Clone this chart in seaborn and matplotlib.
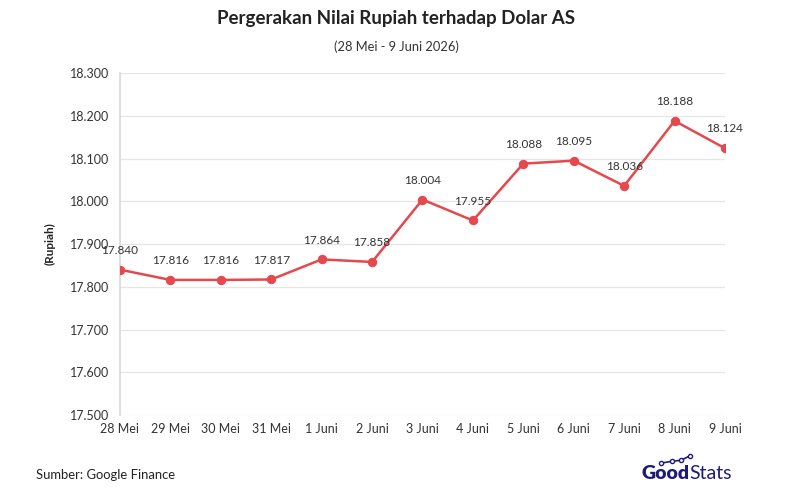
import pandas as pd
import seaborn as sns
import matplotlib.pyplot as plt
from matplotlib.lines import Line2D

# --- data ---
tanggal = ["28 Mei", "29 Mei", "30 Mei", "31 Mei", "1 Juni", "2 Juni", "3 Juni",
           "4 Juni", "5 Juni", "6 Juni", "7 Juni", "8 Juni", "9 Juni"]
kurs = [17840, 17816, 17816, 17817, 17864, 17858, 18004,
        17955, 18088, 18095, 18036, 18188, 18124]
y_ticks = [17500, 17600, 17700, 17800, 17900, 18000, 18100, 18200, 18300]

df = pd.DataFrame({"Tanggal": tanggal, "Kurs": kurs})
df["pos"] = range(len(df))


def fmt_id(v):
    return f"{v:,.0f}".replace(",", ".")


sns.set_theme(style="white")
plt.rcParams["font.family"] = ["Lato", "DejaVu Sans"]

fig = plt.figure(figsize=(7.92, 4.96), dpi=100)
ax = fig.add_axes([0.1515, 0.1633, 0.7639, 0.6895])

sns.lineplot(data=df, x="pos", y="Kurs", ax=ax, color="#e5484d",
             linewidth=1.8, marker="o", markersize=6,
             markeredgecolor="#e5484d", zorder=3)

for x, y in zip(df["pos"], df["Kurs"]):
    ax.annotate(fmt_id(y), (x, y), xytext=(0, 10), textcoords="offset points",
                ha="center", va="bottom", fontsize=8.5, color="#333333")

ax.set_xlim(0, len(df) - 1)
ax.set_ylim(17500, 18300)
ax.set_xticks(df["pos"])
ax.set_xticklabels(tanggal)
ax.set_yticks(y_ticks)
ax.set_yticklabels([fmt_id(v) for v in y_ticks])
ax.tick_params(axis="both", labelsize=9, colors="#333333")
ax.tick_params(axis="y", length=5, color="#cccccc", pad=3)
ax.tick_params(axis="x", length=0, pad=6)
ax.grid(axis="y", color="#e6e6e6", linewidth=0.9)
ax.set_axisbelow(True)
sns.despine(ax=ax, top=True, right=True, bottom=True)
ax.spines["left"].set_color("#d9d9d9")
ax.set_xlabel("")
ax.set_ylabel("(Rupiah)", fontsize=8.5, fontweight="bold", color="#222222", labelpad=10)

fig.text(0.5, 0.962, "Pergerakan Nilai Rupiah terhadap Dolar AS",
         ha="center", va="center", fontsize=13.5, fontweight="bold", color="#222222")
fig.text(0.5, 0.905, "(28 Mei - 9 Juni 2026)", ha="center", va="center",
         fontsize=9.3, color="#333333")
fig.text(0.045, 0.043, "Sumber: Google Finance", ha="left", va="center",
         fontsize=9.4, color="#222222")

# logo GoodStats
fig.text(0.871, 0.045, "Good", ha="right", va="center", fontsize=14,
         fontweight="heavy", color="#1d1a7a")
fig.text(0.871, 0.045, "Stats", ha="left", va="center", fontsize=14,
         color="#1d1a7a")
lx = [0.834, 0.848, 0.860, 0.871]
ly = [0.066, 0.070, 0.072, 0.081]
fig.add_artist(Line2D(lx, ly, transform=fig.transFigure, color="#1d1a7a",
                      linewidth=1.2, marker="o", markersize=3,
                      markerfacecolor="white", markeredgewidth=1))

fig.savefig("out.png", dpi=100)
